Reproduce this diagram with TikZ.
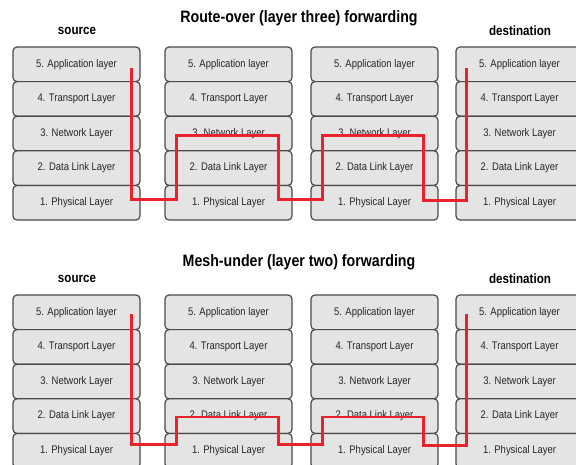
\documentclass[tikz,border=0pt]{standalone}
\usepackage{fontspec}
\setmainfont{Liberation Sans}
\newfontfamily\narrowfont[FakeStretch=0.86]{Liberation Sans}
\usetikzlibrary{calc}
\definecolor{boxfill}{HTML}{E4E4E4}
\definecolor{boxline}{HTML}{4A4A4A}
\definecolor{textgray}{HTML}{262626}
\definecolor{pathred}{HTML}{E8232B}

% one protocol stack: #1 name prefix, #2 left x, #3 top y
\newcommand\layerstack[3]{%
  \foreach \i/\t in {5/5. Application layer,4/4. Transport Layer,3/3. Network Layer,2/2. Data Link Layer,1/1. Physical Layer}{%
    \node[layerbox] (#1\i) at ({#2+63.5},{#3+(5-\i)*34.6+17.3}) {\t};
  }%
}

\begin{document}
\begin{tikzpicture}[x=1pt,y=-1pt,
  layerbox/.style={draw=boxline, fill=boxfill, line width=1.2pt, rounded corners=4pt,
    minimum width=127pt, minimum height=34.6pt, inner sep=0pt, text=textgray,
    font=\narrowfont\fontsize{11}{13}\selectfont},
  heading/.style={text=black, font=\narrowfont\bfseries\fontsize{16.5}{18}\selectfont},
  endlabel/.style={text=black, font=\narrowfont\bfseries\fontsize{13.5}{15}\selectfont},
  redpath/.style={draw=pathred, line width=2.5pt, line join=miter}]
\useasboundingbox (0,0) rectangle (576,464);

% ---- route-over ----
\node[heading] (t1) at (299,18) {Route-over (layer three) forwarding};
\node[endlabel] (tsrc) at (77,31) {source};
\node[endlabel] (tdst) at (520,31) {destination};
\layerstack{ta}{13}{47}
\layerstack{tb}{165}{47}
\layerstack{tc}{311}{47}
\layerstack{td}{456}{47}

\coordinate (r1) at ($(ta5.east)+(-9,4)$);
\coordinate (r2) at ($(ta1.east)+(-9,-3)$);
\coordinate (r3) at ($(tb1.west)+(12,-3)$);
\coordinate (r4) at ($(tb3.west)+(12,2)$);
\coordinate (r5) at ($(tb3.east)+(-14,2)$);
\coordinate (r6) at ($(tb1.east)+(-14,-3)$);
\coordinate (r7) at ($(tc1.west)+(12,-3)$);
\coordinate (r8) at ($(tc3.west)+(12,2)$);
\coordinate (r9) at ($(tc3.east)+(-15,2)$);
\coordinate (r10) at ($(tc1.east)+(-15,-2)$);
\coordinate (r11) at ($(td1.west)+(11,-2)$);
\coordinate (r12) at ($(td5.west)+(11,4)$);
\draw[redpath] (r1) -- (r2) -- (r3) -- (r4) -- (r5) -- (r6) -- (r7) -- (r8) -- (r9) -- (r10) -- (r11) -- (r12);

% ---- mesh-under ----
\node[heading] (t2) at (299,262) {Mesh-under (layer two) forwarding};
\node[endlabel] (bsrc) at (77,279) {source};
\node[endlabel] (bdst) at (520,279) {destination};
\layerstack{ba}{13}{295}
\layerstack{bb}{165}{295}
\layerstack{bc}{311}{295}
\layerstack{bd}{456}{295}

\coordinate (m1) at ($(ba5.east)+(-9,2)$);
\coordinate (m2) at ($(ba1.east)+(-9,-6)$);
\coordinate (m3) at ($(bb1.west)+(12,-6)$);
\coordinate (m4) at ($(bb2.west)+(12,1)$);
\coordinate (m5) at ($(bb2.east)+(-14,1)$);
\coordinate (m6) at ($(bb1.east)+(-14,-6)$);
\coordinate (m7) at ($(bc1.west)+(12,-6)$);
\coordinate (m8) at ($(bc2.west)+(12,1)$);
\coordinate (m9) at ($(bc2.east)+(-15,1)$);
\coordinate (m10) at ($(bc1.east)+(-15,-5)$);
\coordinate (m11) at ($(bd1.west)+(11,-5)$);
\coordinate (m12) at ($(bd5.west)+(11,2)$);
\draw[redpath] (m1) -- (m2) -- (m3) -- (m4) -- (m5) -- (m6) -- (m7) -- (m8) -- (m9) -- (m10) -- (m11) -- (m12);
\end{tikzpicture}
\end{document}
